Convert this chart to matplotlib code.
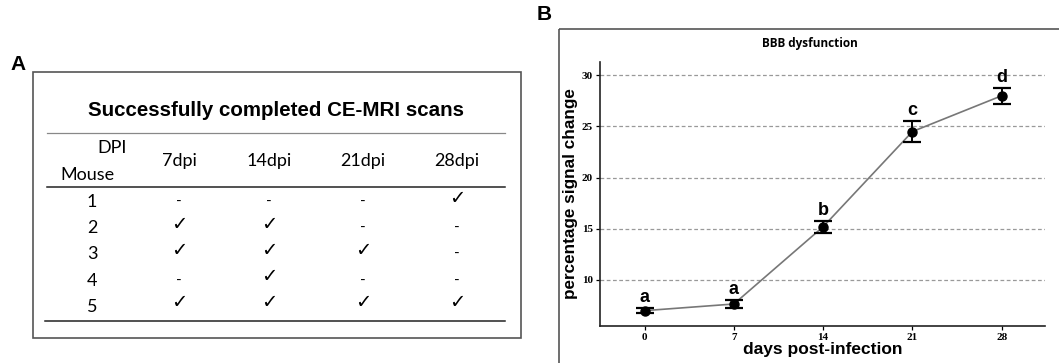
import matplotlib
matplotlib.use('Agg')
import matplotlib.pyplot as plt
from matplotlib.patches import Rectangle

# Panel A table data
dpi_cols = ['7dpi', '14dpi', '21dpi', '28dpi']
mice = ['1', '2', '3', '4', '5']
done = [
    [0, 0, 0, 1],
    [1, 1, 0, 0],
    [1, 1, 1, 0],
    [0, 1, 0, 0],
    [1, 1, 1, 1],
]

# Panel B data
days = [0, 7, 14, 21, 28]
signal = [7.0, 7.65, 15.2, 24.5, 28.0]
err = [0.27, 0.4, 0.6, 1.0, 0.77]
letters = ['a', 'a', 'b', 'c', 'd']

W, H = 1059, 363
fig = plt.figure(figsize=(W / 100, H / 100), dpi=100)
fig.patch.set_facecolor('white')

# ---- Panel A: table, drawn in pixel coordinates ----
axa = fig.add_axes([0, 0, 1, 1])
axa.set_xlim(0, W)
axa.set_ylim(H, 0)
axa.axis('off')

body = 'Lato'
axa.text(18, 65, 'A', fontsize=15, fontweight='bold', family='Liberation Sans',
         ha='center', va='center')
axa.add_patch(Rectangle((33, 72), 488, 266, fill=False, edgecolor='#555555', lw=1.2))
axa.text(276, 111, 'Successfully completed CE-MRI scans', fontsize=14.8,
         fontweight='bold', family='Liberation Sans', ha='center', va='center')
axa.plot([47, 505], [133, 133], color='#888888', lw=0.9)
axa.plot([47, 505], [187, 187], color='#222222', lw=1.1)
axa.plot([45, 505], [321, 321], color='#222222', lw=1.1)

axa.text(112, 148, 'DPI', fontsize=13, family=body, ha='center', va='center')
axa.text(87, 175, 'Mouse', fontsize=13, family=body, ha='center', va='center')
col_x = [179, 269, 363, 457]
for x, lab in zip(col_x, dpi_cols):
    axa.text(x, 161, lab, fontsize=13, family=body, ha='center', va='center')
row_y = [202, 228, 254, 281, 307]
for y, m, row in zip(row_y, mice, done):
    axa.text(92, y, m, fontsize=13, family=body, ha='center', va='center')
    for x, v in zip(col_x, row):
        if v:
            axa.text(x, y - 4, '\u2713', fontsize=14, family='DejaVu Sans',
                     ha='center', va='center')
        else:
            axa.text(x, y, '-', fontsize=11, family=body, ha='center', va='center')

# ---- Panel B frame and label ----
axa.text(544, 15, 'B', fontsize=15, fontweight='bold', family='Liberation Sans',
         ha='center', va='center')
axa.add_patch(Rectangle((559, 29), 520, 360, fill=False, edgecolor='#555555', lw=1.2))
axa.text(810, 43, 'BBB dysfunction', fontsize=8.5, fontweight='bold', family='Open Sans',
         ha='center', va='center')

# ---- Panel B: line plot ----
axb = fig.add_axes([600 / W, 1 - 326 / H, 445 / W, (326 - 62) / H])
axb.set_xlim(-3.5, 31.4)
axb.set_ylim(5.5, 31.3)
axb.set_yticks([10, 15, 20, 25, 30])
axb.set_xticks(days)
axb.yaxis.grid(True, linestyle=(0, (3, 2)), color='#999999', lw=0.9)
axb.set_axisbelow(True)
for s in ['top', 'right']:
    axb.spines[s].set_visible(False)
for s in ['left', 'bottom']:
    axb.spines[s].set_color('#222222')
    axb.spines[s].set_linewidth(1.2)
axb.tick_params(labelsize=8, length=3, width=0.9, pad=2)
for lab in axb.get_xticklabels() + axb.get_yticklabels():
    lab.set_fontweight('bold')
    lab.set_family('Liberation Serif')

axb.plot(days, signal, color='#777777', lw=1.2, zorder=2)
axb.errorbar(days, signal, yerr=err, fmt='o', color='black', ms=6.5,
             capsize=6.5, elinewidth=1.4, capthick=1.6, zorder=3)
for x, y, e, l in zip(days, signal, err, letters):
    axb.text(x, y + e + 0.2, l, fontsize=13, fontweight='bold',
             family='Liberation Sans', ha='center', va='bottom')

axb.set_xlabel('days post-infection', fontsize=12.5, fontweight='bold',
               family='Liberation Sans', labelpad=0)
axb.set_ylabel('percentage signal change', fontsize=12.3, fontweight='bold',
               family='Liberation Sans', labelpad=3)

fig.savefig('out.png', dpi=100, facecolor='white')
